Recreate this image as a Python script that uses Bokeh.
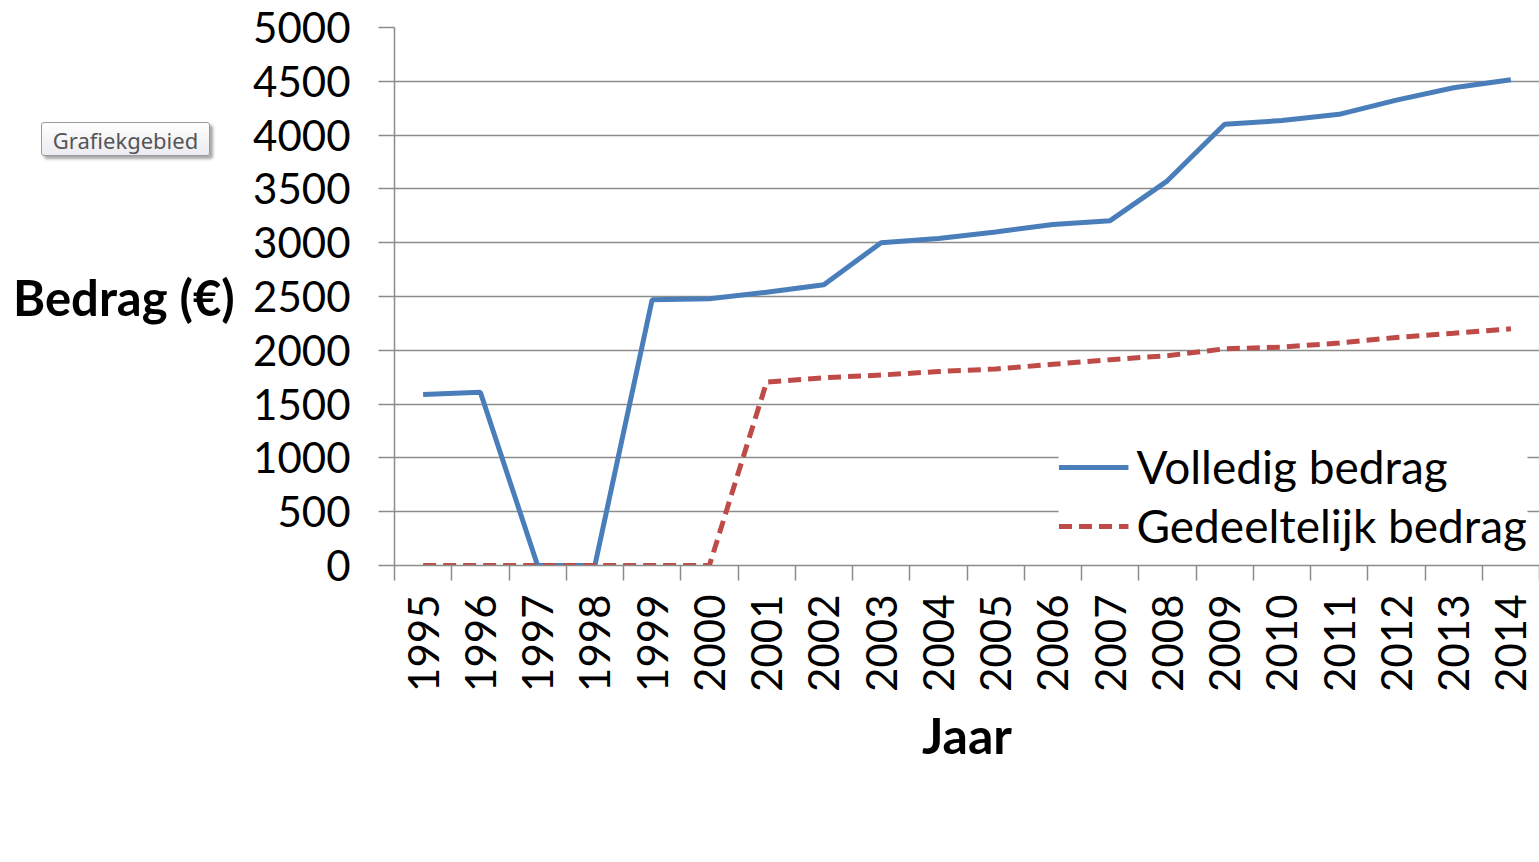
from bokeh.plotting import figure
from bokeh.layouts import row
from bokeh.models import (Range1d, FixedTicker, Legend, LegendItem, ColumnDataSource, Div)
from bokeh.embed import file_html
from bokeh.resources import INLINE

years = [str(y) for y in range(1995, 2015)]
volledig = [1590, 1610, 0, 0, 2470, 2480, 2540, 2610, 3000, 3040, 3100, 3170, 3205,
            3575, 4100, 4135, 4193, 4325, 4440, 4515]
gedeeltelijk = [0, 0, 0, 0, 0, 0, 1705, 1745, 1770, 1803, 1826, 1870, 1913,
                1950, 2014, 2030, 2067, 2120, 2158, 2200]
y_ticks = list(range(0, 5001, 500))

FONT = "Lato"
GRID = "#8c8c8c"
BLUE = "#4a7ebb"
RED = "#be4b48"

W, H = 1539, 862
LEFT_W = 250
TOP, FRAME_H, LEFT_B = 27, 538, 144

n = len(years)
centers = [i + 0.5 for i in range(n)]
bounds = [float(i) for i in range(n + 1)]

src = ColumnDataSource(dict(x=centers, v=volledig, g=gedeeltelijk))

left_html = (
    '<div style="position:relative;width:250px;height:862px;">'
    '<div style="position:absolute;left:41px;top:122px;width:169px;height:34px;'
    'border:1px solid #9a9a9a;border-radius:3px;'
    'background:linear-gradient(#ffffff,#ebebf0);box-shadow:3px 3px 3px #a8a8a8;'
    'font-family:\'Noto Sans\';font-size:22px;color:#555555;text-align:center;'
    'line-height:34px;">Grafiekgebied</div>'
    '<div style="position:absolute;left:13px;top:267px;font-family:Lato;'
    'font-weight:bold;font-size:49px;color:black;line-height:60px;'
    'white-space:nowrap;">Bedrag (€)</div>'
    '</div>'
)
left = Div(text=left_html, width=LEFT_W, height=H, margin=0)

p = figure(frame_width=W - LEFT_W - LEFT_B, frame_height=FRAME_H,
           output_backend="svg", toolbar_location=None,
           x_range=Range1d(0, n), y_range=Range1d(0, 5000),
           min_border_left=LEFT_B, min_border_right=0, min_border_top=TOP,
           min_border_bottom=H - TOP - FRAME_H)
p.outline_line_color = None

r1 = p.line("x", "v", source=src, line_color=BLUE, line_width=5)
r2 = p.line("x", "g", source=src, line_color=RED, line_width=5, line_dash="13 7")

xa = p.xaxis[0]
xa.ticker = FixedTicker(ticks=centers, minor_ticks=bounds)
xa.major_label_overrides = {c: y for c, y in zip(centers, years)}
xa.major_label_orientation = 1.5708
xa.major_tick_out = 0
xa.major_tick_in = 0
xa.minor_tick_out = 15
xa.minor_tick_in = 0
xa.minor_tick_line_color = GRID
xa.minor_tick_line_width = 1.5
xa.axis_line_color = GRID
xa.axis_line_width = 1.5
xa.major_label_text_font = FONT
xa.major_label_text_font_size = "42px"
xa.major_label_text_color = "black"
xa.major_label_standoff = 14
xa.axis_label = "Jaar"
xa.axis_label_text_font = FONT
xa.axis_label_text_font_style = "bold"
xa.axis_label_text_font_size = "50px"
xa.axis_label_text_color = "black"
xa.axis_label_standoff = 10

ya = p.yaxis[0]
ya.ticker = FixedTicker(ticks=y_ticks)
ya.major_tick_out = 16
ya.major_tick_in = 0
ya.minor_tick_out = 0
ya.minor_tick_in = 0
ya.major_tick_line_color = GRID
ya.major_tick_line_width = 1.5
ya.axis_line_color = GRID
ya.axis_line_width = 1.5
ya.major_label_text_font = FONT
ya.major_label_text_font_size = "42px"
ya.major_label_text_color = "black"
ya.major_label_standoff = 28

p.xgrid.visible = False
p.ygrid.ticker = FixedTicker(ticks=y_ticks)
p.ygrid.grid_line_color = GRID
p.ygrid.grid_line_width = 1.5

legend = Legend(items=[LegendItem(label="Volledig bedrag", renderers=[r1]),
                       LegendItem(label="Gedeeltelijk bedrag", renderers=[r2])],
                orientation="vertical", location="bottom_right",
                label_text_font=FONT, label_text_font_size="46px",
                label_text_color="black", glyph_width=70, glyph_height=50,
                label_standoff=8, spacing=4, padding=8, margin=12,
                border_line_color=None, background_fill_color="white",
                background_fill_alpha=1.0)
p.add_layout(legend, "center")

open("out.html", "w").write(file_html(row(left, p, spacing=0), INLINE))
